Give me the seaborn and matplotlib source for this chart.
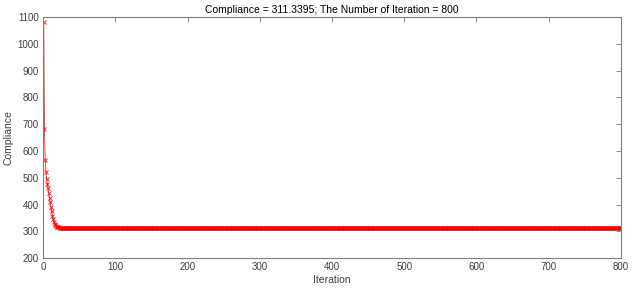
import numpy as np
import pandas as pd
import matplotlib
matplotlib.use("Agg")
import matplotlib.pyplot as plt
import seaborn as sns

# Compliance: first iterations one by one, then the flat tail
head = [1080, 682, 568, 522, 497, 478, 460, 442, 425, 408,
        392, 375, 358, 345, 335, 328, 323, 320, 318, 316,
        315, 314.5, 314, 313.8, 313.6, 313.5, 313.4, 313.3, 313.2, 313.1]
tail_levels = [313.0, 312.0, 311.0, 311.5, 311.3395]
tail_counts = [30, 90, 250, 399, 1]

compliance = head + [v for v, n in zip(tail_levels, tail_counts) for _ in range(n)]
iterations = np.arange(1, len(compliance) + 1)
df = pd.DataFrame({"Iteration": iterations, "Compliance": compliance})

sns.set_theme(style="white")
plt.rcParams["font.family"] = ["Liberation Sans", "DejaVu Sans"]

fig = plt.figure(figsize=(6.33, 2.93), dpi=100)
ax = fig.add_axes([0.068, 0.119, 0.913, 0.823])

sns.lineplot(data=df, x="Iteration", y="Compliance", ax=ax, color="red",
             linewidth=0.6, marker="x", markersize=3.5, markeredgewidth=0.7,
             markeredgecolor="red", alpha=0.85)

ax.set_xlim(0, 800)
ax.set_ylim(200, 1100)
ax.set_xticks(range(0, 801, 100))
ax.set_yticks(range(200, 1101, 100))

grey = "#808080"
for s in ax.spines.values():
    s.set_visible(True)
    s.set_color(grey)
    s.set_linewidth(0.8)
ax.tick_params(direction="in", length=3.5, width=0.6, color=grey,
               labelsize=7, labelcolor="#404040", top=True, right=True,
               labeltop=False, labelright=False, pad=3)
ax.set_xlabel("Iteration", fontsize=7.5, color="#404040", labelpad=2)
ax.set_ylabel("Compliance", fontsize=7.5, color="#404040", labelpad=3)
ax.set_title("Compliance = 311.3395; The Number of Iteration = 800",
             fontsize=7.5, color="black", pad=3)

fig.savefig("out.png", dpi=100)
